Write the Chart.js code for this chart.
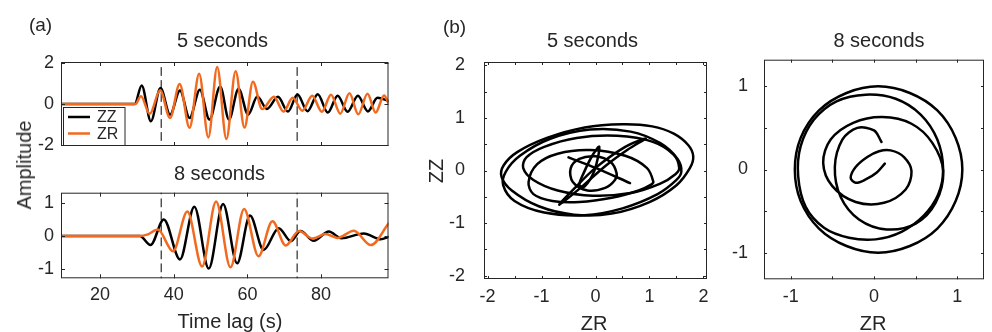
<!DOCTYPE html>
<html><head><meta charset="utf-8">
<script src="https://cdn.jsdelivr.net/npm/chart.js@4.4.1/dist/chart.umd.min.js"></script>
<style>
html,body{margin:0;padding:0;background:#fff;}
#wrap{position:relative;width:992px;height:332px;overflow:hidden;font-family:"Liberation Sans",Arial,Helvetica,sans-serif;color:#262626;}
canvas{position:absolute;left:0;top:0;}
.t{position:absolute;white-space:nowrap;line-height:1;transform:translate(-50%,-50%);}
.r{transform:translate(-50%,-50%) rotate(-90deg);}
</style></head><body>
<div id="wrap">
<canvas id="c1" width="992" height="332"></canvas>
<canvas id="c2" width="992" height="332"></canvas>
<canvas id="c3" width="992" height="332"></canvas>
<canvas id="c4" width="992" height="332"></canvas>
<div class="t" style="left:40.5px;top:23.5px;font-size:19px">(a)</div>
<div class="t" style="left:454.5px;top:26px;font-size:19px">(b)</div>
<div class="t" style="left:222.5px;top:40px;font-size:20px">5 seconds</div>
<div class="t" style="left:219.5px;top:172.5px;font-size:20px">8 seconds</div>
<div class="t" style="left:592.5px;top:40px;font-size:20px">5 seconds</div>
<div class="t" style="left:879px;top:40px;font-size:20px">8 seconds</div>
<div class="t r" style="left:24px;top:165px;font-size:20px">Amplitude</div>
<div class="t" style="left:230px;top:321px;font-size:20px">Time lag (s)</div>
<div class="t r" style="left:436px;top:170.5px;font-size:20px">ZZ</div>
<div class="t" style="left:594px;top:323px;font-size:20px">ZR</div>
<div class="t" style="left:873px;top:322.5px;font-size:20px">ZR</div>
</div>
<script>
// ---------- data ----------
const seriesNames = ['ZZ', 'ZR'];
const windowLines = [36.6, 73.5];          // dashed time-window markers (s)

// 5 s period, ZZ (black)
const zz5T = [9.4, 29.4, 31.3, 33.8, 36.4, 39.0, 41.7, 44.3, 47.1, 49.7, 52.6, 55.0, 57.6, 60.2, 62.7, 65.3, 68.3, 71.0, 73.6, 76.3, 79.1, 81.8, 84.5, 87.2, 90.0, 92.7, 95.3, 98.3];
const zz5V = [0, 0, 0.9, -0.84, 0.78, -0.52, 0.66, -0.68, 0.7, -0.76, 0.86, -0.76, 0.75, -0.52, 0.36, -0.24, 0.35, -0.37, 0.46, -0.35, 0.48, -0.42, 0.4, -0.38, 0.4, -0.36, 0.3, 0.15];
// 5 s period, ZR (orange)
const zr5T = [9.4, 29.6, 31.1, 33.5, 36.3, 39.0, 41.6, 44.3, 46.9, 49.4, 51.8, 54.3, 56.8, 59.2, 61.5, 64.0, 67.2, 69.8, 72.3, 74.9, 77.6, 80.2, 82.7, 85.2, 87.7, 90.1, 92.6, 94.8, 97.1, 98.3];
const zr5V = [0, 0, 0.38, -0.48, 0.67, -0.68, 0.98, -1.16, 1.48, -1.63, 1.8, -1.71, 1.6, -1.15, 1.08, -0.25, 0.35, -0.37, 0.3, -0.33, 0.4, -0.38, 0.45, -0.47, 0.52, -0.5, 0.5, -0.42, 0.42, 0.05];
// 8 s period, ZZ (black)
const zz8T = [9.4, 30.8, 33.7, 37.3, 41.7, 45.6, 49.5, 53.4, 57.2, 60.7, 64.4, 68.5, 71.8, 74.4, 78.0, 82.1, 85.5, 91.6, 96.2, 98.3];
const zz8V = [0, 0, -0.28, 0.51, -0.72, 0.9, -1.0, 0.98, -0.84, 0.63, -0.43, 0.24, -0.16, 0.15, -0.15, 0.14, -0.07, 0.08, -0.1, -0.03];
// 8 s period, ZR (orange)
const zr8T = [9.4, 30.5, 33.0, 35.7, 39.8, 43.7, 47.7, 51.5, 55.4, 59.1, 63.0, 66.8, 70.4, 74.0, 77.7, 81.2, 84.4, 88.9, 93.5, 98.3];
const zr8V = [0, 0, 0.05, 0.2, -0.47, 0.75, -0.94, 1.06, -0.96, 0.83, -0.62, 0.45, -0.29, 0.15, -0.08, 0.06, -0.06, 0.16, -0.28, 0.38];

// particle motion, 5 s. Traced loops separated by null; each run carries one
// lead-in and one lead-out point (its first and last segment are not drawn).
const pm5ZR = [
  1.75, 1.81,1.72,1.45,1.05,0.5,-0.2,-0.9,-1.45,-1.7,-1.74,-1.55,-1.05,-0.4,0.3,1.0,1.5,1.75, 1.81,1.72, null,
  1.5, 1.59,1.52,1.2,0.65,-0.1,-0.85,-1.4,-1.66,-1.71,-1.5,-0.95,-0.2,0.5,1.15,1.5, 1.59,1.52, null,
  1.48, 1.55,1.45,1.05,0.4,-0.35,-0.95,-1.28,-1.34,-1.15,-0.7,-0.05,0.65,1.2,1.48, 1.55,1.45, null,
  1.03, 1.07,0.95,0.55,-0.1,-0.7,-1.08,-1.24,-1.15,-0.8,-0.3,0.3,0.8,1.03, 1.07,0.95, null,
  0.36, 0.39,0.28,0.0,-0.3,-0.46,-0.42,-0.15,0.18,0.36, 0.39,0.28, null,
  -0.02, 0.07,-0.05,-0.22,-0.3,-0.2,-0.02, 0.07,-0.05, null,
  -0.4, -0.67,-0.3,0.2,0.6,0.93,0.55,0.0,-0.4, -0.67,-0.3, null,
  -0.5, -0.5,0.0,0.64, 0.64];
const pm5ZZ = [
  0.05, 0.27,0.48,0.7,0.84,0.88,0.82,0.62,0.35,0.1,-0.12,-0.38,-0.68,-0.84,-0.82,-0.6,-0.28,0.05, 0.27,0.48, null,
  -0.18, -0.02,0.22,0.52,0.74,0.78,0.6,0.28,-0.02,-0.28,-0.58,-0.8,-0.85,-0.72,-0.45,-0.18, -0.02,0.22, null,
  -0.07, 0.05,0.3,0.55,0.66,0.62,0.45,0.25,0.05,-0.18,-0.38,-0.48,-0.43,-0.25,-0.07, 0.05,0.3, null,
  -0.27, -0.21,0.05,0.28,0.39,0.32,0.12,-0.22,-0.45,-0.58,-0.6,-0.52,-0.38,-0.27, -0.21,0.05, null,
  -0.18, -0.05,0.16,0.27,0.22,0.04,-0.22,-0.38,-0.33,-0.18, -0.05,0.16, null,
  0.0, 0.45,0.3,-0.05,-0.28,-0.3,0.0, 0.45,0.3, null,
  -0.35, -0.65,-0.35,0.1,0.4,0.61,0.45,0.05,-0.35, -0.65,-0.35, null,
  0.25, 0.25,0.05,-0.24, -0.24];

// particle motion, 8 s: outer loop, second loop, inner spiral (same lead-in/lead-out convention)
const pm8ZR = [
  0.98, 1.06,0.98,0.76,0.43,0.05,-0.33,-0.66,-0.88,-0.95,-0.88,-0.66,-0.33,0.05,0.43,0.76,0.98, 1.06,0.98, null,
  0.77, 0.83,0.76,0.56,0.26,-0.1,-0.45,-0.72,-0.88,-0.91,-0.82,-0.6,-0.3,0.02,0.33,0.6,0.77, 0.83,0.76, null,
  0.13, 0.13,0.03,-0.1,-0.22,-0.28,-0.22,-0.08,0.06,0.2,0.36,0.45,0.38,0.12,-0.22,-0.5,-0.61,-0.52,-0.25,0.1,0.45,0.7,0.83,0.74,0.5,0.15,-0.18,-0.4,-0.47,-0.38,-0.2,0.0,0.09, 0.09];
const pm8ZZ = [
  -0.38, 0.0,0.38,0.71,0.92,1.0,0.92,0.71,0.38,0.0,-0.38,-0.71,-0.92,-1.0,-0.92,-0.71,-0.38, 0.0,0.38, null,
  -0.3, 0.0,0.36,0.66,0.85,0.9,0.82,0.6,0.28,-0.08,-0.45,-0.7,-0.82,-0.84,-0.75,-0.55,-0.3, 0.0,0.36, null,
  0.07, 0.07,-0.04,-0.12,-0.16,-0.1,0.03,0.15,0.22,0.23,0.15,-0.02,-0.24,-0.4,-0.39,-0.2,0.08,0.36,0.56,0.63,0.55,0.32,-0.02,-0.4,-0.65,-0.72,-0.6,-0.33,0.03,0.36,0.5,0.47,0.33, 0.33];

// ---------- helpers ----------
const BLACK = '#000000', ORANGE = '#f26a1f', AXIS = '#262626';
const FONT = '"Liberation Sans", Arial, Helvetica, sans-serif';
const pts = (xs, ys) => xs.map((v, i) => ({x: v, y: ys[i]}));

// indices of the first and last segment of every null-separated run
function edgeSegments(arr) {
  const s = new Set();
  for (let i = 0; i < arr.length - 1; i++) {
    if (arr[i] === null || arr[i + 1] === null) continue;
    const first = i === 0 || arr[i - 1] === null;
    const last = i + 1 === arr.length - 1 || arr[i + 2] === null;
    if (first || last) s.add(i);
  }
  return s;
}

const framePlugin = {
  id: 'frame',
  afterDatasetsDraw(chart, args, o) {
    const {ctx, chartArea: a, scales: {x, y}} = chart;
    ctx.save();
    ctx.strokeStyle = AXIS; ctx.lineWidth = 1;
    ctx.beginPath();
    o.xTicks.forEach(v => {
      const p = Math.round(x.getPixelForValue(v)) + 0.5;
      ctx.moveTo(p, a.bottom); ctx.lineTo(p, a.bottom - o.len);
      ctx.moveTo(p, a.top); ctx.lineTo(p, a.top + o.len);
    });
    o.yTicks.forEach(v => {
      const p = Math.round(y.getPixelForValue(v)) + 0.5;
      ctx.moveTo(a.left, p); ctx.lineTo(a.left + o.len, p);
      ctx.moveTo(a.right, p); ctx.lineTo(a.right - o.len, p);
    });
    ctx.stroke();
    ctx.strokeRect(a.left + 0.5, a.top + 0.5, a.right - a.left - 1, a.bottom - a.top - 1);
    ctx.fillStyle = AXIS;
    ctx.font = '18px ' + FONT;
    if (o.xLabels) {
      ctx.textAlign = 'center'; ctx.textBaseline = 'middle';
      o.xLabels.forEach(v => ctx.fillText(String(v), x.getPixelForValue(v), o.xLabelY));
    }
    if (o.yLabels) {
      ctx.textAlign = 'right'; ctx.textBaseline = 'middle';
      o.yLabels.forEach(v => ctx.fillText(String(v), o.yLabelX, y.getPixelForValue(v)));
    }
    if (o.legend) {
      const L = o.legend;
      ctx.fillStyle = '#fff';
      ctx.fillRect(L.x, L.y, L.w, L.h);
      ctx.strokeStyle = AXIS; ctx.lineWidth = 1;
      ctx.strokeRect(L.x + 0.5, L.y + 0.5, L.w, L.h);
      L.items.forEach((it, i) => {
        const yy = L.y + L.first + i * L.step;
        ctx.strokeStyle = it.color; ctx.lineWidth = 2.5;
        ctx.beginPath(); ctx.moveTo(L.x + 5, yy); ctx.lineTo(L.x + 27, yy); ctx.stroke();
        ctx.fillStyle = AXIS; ctx.font = '16px ' + FONT;
        ctx.textAlign = 'left'; ctx.textBaseline = 'middle';
        ctx.fillText(it.text, L.x + 34, yy + 1);
      });
    }
    ctx.restore();
  }
};

function mk(id, datasets, xr, yr, area, frame) {
  return new Chart(document.getElementById(id), {
    type: 'line',
    data: {datasets},
    options: {
      responsive: false, animation: false, devicePixelRatio: 1, events: [],
      layout: {padding: {left: area[0], top: area[1], right: 992 - area[2], bottom: 332 - area[3]}},
      scales: {
        x: {type: 'linear', display: false, min: xr[0], max: xr[1]},
        y: {type: 'linear', display: false, min: yr[0], max: yr[1]}
      },
      elements: {point: {radius: 0}, line: {borderCapStyle: 'round', borderJoinStyle: 'round'}},
      plugins: {legend: {display: false}, tooltip: {enabled: false}, frame}
    },
    plugins: [framePlugin]
  });
}

function tsSets(zzT, zzV, zrT, zrV, yr) {
  const sets = [
    {data: pts(zrT, zrV), borderColor: ORANGE, borderWidth: 2.5, cubicInterpolationMode: 'monotone', fill: false},
    {data: pts(zzT, zzV), borderColor: BLACK, borderWidth: 2.5, cubicInterpolationMode: 'monotone', fill: false}
  ];
  windowLines.forEach(t => sets.push({data: [{x: t, y: yr[0] - 1}, {x: t, y: yr[1] + 1}], borderColor: BLACK, borderWidth: 1, borderDash: [8, 5], tension: 0, fill: false}));
  return sets;
}

function pmSet(zr, zz) {
  const hide = edgeSegments(zr);
  return [{data: pts(zr, zz), borderColor: BLACK, borderWidth: 2.5, tension: 0.33, fill: false, spanGaps: false,
    segment: {borderColor: c => hide.has(c.p0DataIndex) ? 'rgba(0,0,0,0)' : undefined}}];
}

const xRangeA = [9.4, 98.3];
const yRange5 = [-2.05, 2.05], yRange8 = [-1.3, 1.33];

mk('c1', tsSets(zz5T, zz5V, zr5T, zr5V, yRange5), xRangeA, yRange5, [61, 62, 388.5, 146],
  {xTicks: [20, 40, 60, 80], yTicks: [-2, 0, 2], yLabels: [-2, 0, 2], yLabelX: 54, len: 4,
   legend: {x: 63, y: 107, w: 61.5, h: 38, first: 10, step: 16.5,
            items: [{text: seriesNames[0], color: BLACK}, {text: seriesNames[1], color: ORANGE}]}});

mk('c2', tsSets(zz8T, zz8V, zr8T, zr8V, yRange8), xRangeA, yRange8, [61, 192.7, 388.5, 278.3],
  {xTicks: [20, 40, 60, 80], xLabels: [20, 40, 60, 80], xLabelY: 295.5,
   yTicks: [-1, 0, 1], yLabels: [-1, 0, 1], yLabelX: 54, len: 4});

mk('c3', pmSet(pm5ZR, pm5ZZ), [-2.065, 2.065], [-2.065, 2.065], [484, 62, 707, 279],
  {xTicks: [-2, -1.5, -1, -0.5, 0, 0.5, 1, 1.5, 2], xLabels: [-2, -1, 0, 1, 2], xLabelY: 297.5,
   yTicks: [-2, -1.5, -1, -0.5, 0, 0.5, 1, 1.5, 2], yLabels: [-2, -1, 0, 1, 2], yLabelX: 465, len: 3});

mk('c4', pmSet(pm8ZR, pm8ZZ), [-1.32, 1.32], [-1.32, 1.32], [764, 59.7, 984, 279.3],
  {xTicks: [-1, -0.5, 0, 0.5, 1], xLabels: [-1, 0, 1], xLabelY: 297,
   yTicks: [-1, -0.5, 0, 0.5, 1], yLabels: [-1, 0, 1], yLabelX: 748, len: 3});
</script>
</body></html>
